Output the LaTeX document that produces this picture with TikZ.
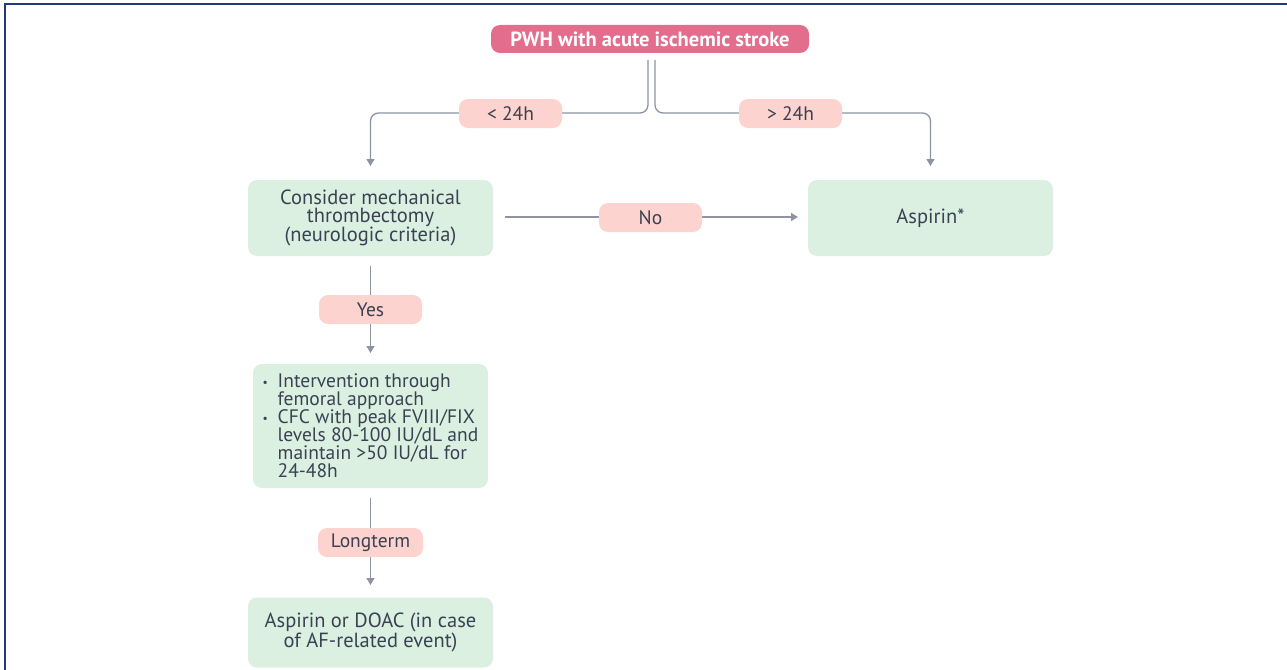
\documentclass[tikz,border=0pt]{standalone}
\usepackage{fontspec}
\setmainfont{PT Sans}
\usetikzlibrary{arrows.meta}
\definecolor{titlefill}{HTML}{E36D8C}
\definecolor{labfill}{HTML}{FCD3CF}
\definecolor{boxfill}{HTML}{DCF0E2}
\definecolor{txt}{HTML}{3A4152}
\definecolor{conn}{HTML}{8E93A3}
\definecolor{frame}{HTML}{1F3C7A}
\tikzset{
  title/.style={fill=titlefill, text=white, font=\fontsize{20.5}{20}\selectfont\bfseries, rounded corners=9pt, minimum width=318pt, minimum height=28pt, inner sep=0pt},
  lab/.style={fill=labfill, text=txt, font=\fontsize{19.5}{19}\selectfont, rounded corners=9pt, minimum width=103pt, minimum height=29pt, inner sep=0pt},
  gbox/.style={fill=boxfill, text=txt, font=\fontsize{20.5}{18}\selectfont, rounded corners=9pt, minimum width=245pt, minimum height=76pt, align=center, inner sep=0pt},
  conline/.style={draw=conn, line width=1.3pt, rounded corners=8pt},
  arr/.style={-{Triangle[width=8pt,length=7pt]}}
}
\newcommand{\mybul}{\makebox[15pt][l]{\raisebox{0.15ex}{\scalebox{0.6}{\textbullet}}}}
\newcommand{\myind}{\hspace*{15pt}}
\begin{document}
\begin{tikzpicture}[x=1pt,y=-1pt]
\useasboundingbox (0,0) rectangle (1287,669);
\draw[frame, line width=2pt] (5,670) -- (5,4.5) -- (1287,4.5);

\node[title] (top) at (650,39) {PWH with acute ischemic stroke};
\node[gbox] (consider) at (370.5,218) {Consider mechanical\\thrombectomy\\(neurologic criteria)};
\node[gbox] (asp) at (930.5,218) {Aspirin*};
\node[gbox, minimum width=235pt, minimum height=124pt, align=left, font=\fontsize{19.5}{18}\selectfont] (interv) at (370.5,426)
 {\mybul Intervention through\\
  \myind femoral approach\\
  \mybul CFC with peak FVIII/FIX\\
  \myind levels 80-100 IU/dL and\\
  \myind maintain >50 IU/dL for\\
  \myind 24-48h};
\node[gbox, minimum height=70pt] (final) at (370.5,632.5) {Aspirin or DOAC (in case\\of AF-related event)};

\coordinate (ltop) at (648,60);
\coordinate (rtop) at (655,60);
\coordinate (lend) at (370.5,166);
\coordinate (rend) at (930.5,166);
\draw[conline, arr] (ltop) -- (648,113) -- (370.5,113) -- (lend);
\draw[conline, arr] (rtop) -- (655,113) -- (930.5,113) -- (rend);
\node[lab] (lt) at (510.5,113.5) {< 24h};
\node[lab] (gt) at (790.5,113.5) {> 24h};

\coordinate (nostart) at (505,217);
\coordinate (noend) at (798,217);
\draw[conline, arr] (nostart) -- (noend);
\node[lab] (no) at (650.5,217.5) {No};

\coordinate (ystart) at (370.5,266);
\coordinate (yend) at (370.5,353);
\draw[conline, arr] (ystart) -- (yend);
\node[lab] (yes) at (370.5,309.5) {Yes};

\coordinate (lstart) at (370.5,498);
\coordinate (lendb) at (370.5,585);
\draw[conline, arr] (lstart) -- (lendb);
\node[lab, minimum width=105pt] (long) at (370.5,542.5) {Longterm};
\end{tikzpicture}
\end{document}
